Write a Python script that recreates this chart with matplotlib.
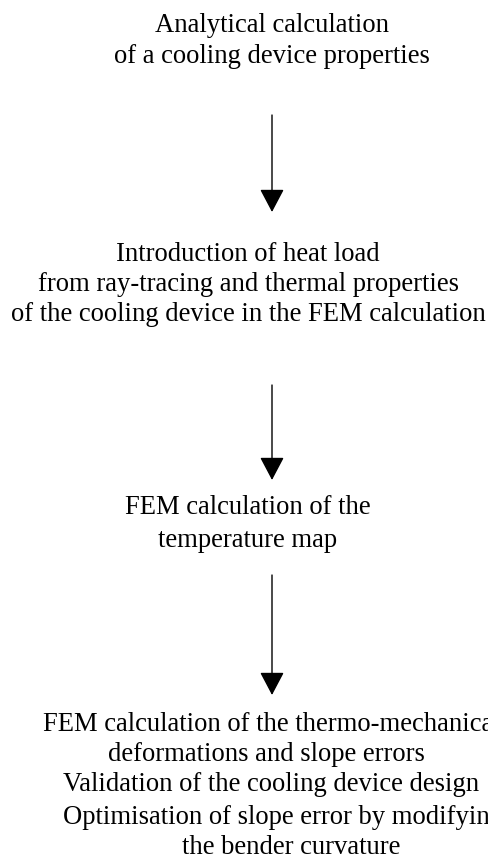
import matplotlib
matplotlib.use("Agg")
import matplotlib.pyplot as plt

# Flowchart content
step_lines = [
    ["Analytical calculation", "of a cooling device properties"],
    ["Introduction of heat load", "from ray-tracing and thermal properties",
     "of the cooling device in the FEM calculation"],
    ["FEM calculation of the", "temperature map"],
    ["FEM calculation of the thermo-mechanical", "deformations and slope errors",
     "Validation of the cooling device design",
     "Optimisation of slope error by modifying", "the bender curvature"],
]

# layout (pixel space, baselines)
line_pos = [
    [(272, 31.5, "center"), (272, 63, "center")],
    [(248, 261, "center"), (248, 291, "center"), (248, 321, "center")],
    [(248, 514, "center"), (248, 547, "center")],
    [(43, 731, "left"), (266, 761, "center"), (271, 791, "center"),
     (63, 824, "left"), (291, 854, "center")],
]
arrow_x = 272
arrow_spans = [(115, 212), (385, 480), (575, 695)]

W, H = 488, 868
fig = plt.figure(figsize=(W / 100, H / 100), dpi=100)
ax = fig.add_axes([0, 0, 1, 1])
ax.set_xlim(0, W)
ax.set_ylim(H, 0)
ax.axis("off")

for lines, poss in zip(step_lines, line_pos):
    for txt, (x, y, ha) in zip(lines, poss):
        ax.text(x, y, txt, ha=ha, va="baseline", fontsize=19.2,
                family="Liberation Serif", color="black")

for y0, y1 in arrow_spans:
    ax.annotate("", xy=(arrow_x, y1), xytext=(arrow_x, y0),
                arrowprops=dict(arrowstyle="-|>,head_length=14.4,head_width=7.6",
                                mutation_scale=1, shrinkA=0, shrinkB=0,
                                lw=1.0, color="black", fc="black"))

fig.savefig("out.png", dpi=100, facecolor="white")
